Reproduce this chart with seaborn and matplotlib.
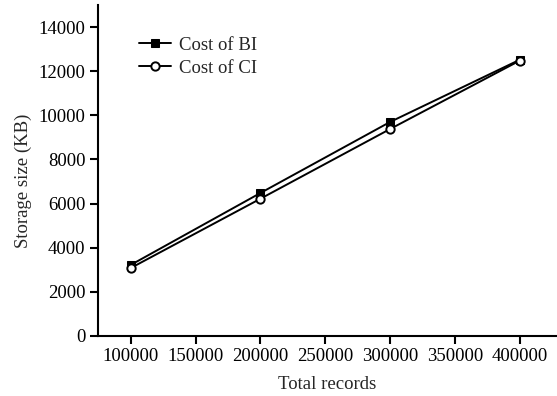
import matplotlib
matplotlib.use("Agg")
import matplotlib.pyplot as plt
import seaborn as sns
import pandas as pd

records = [100000, 200000, 300000, 400000]
cost_bi = [3220, 6480, 9700, 12520]
cost_ci = [3080, 6220, 9380, 12480]

sns.set_style("ticks")
plt.rcParams['font.family'] = ['Liberation Serif', 'DejaVu Serif']
FS = 13.5

df = pd.DataFrame({"records": records * 2,
                   "value": cost_bi + cost_ci,
                   "series": ["Cost of BI"] * 4 + ["Cost of CI"] * 4})

fig = plt.figure(figsize=(5.57, 3.96), dpi=100)
ax = fig.add_axes([0.176, 0.152, 0.822, 0.835])

sns.lineplot(data=df[df.series == "Cost of BI"], x="records", y="value", ax=ax,
             color="black", marker="s", markersize=6, linewidth=1.4,
             markerfacecolor="black", markeredgecolor="black", label="Cost of BI")
sns.lineplot(data=df[df.series == "Cost of CI"], x="records", y="value", ax=ax,
             color="black", marker="o", markersize=6, linewidth=1.4,
             markerfacecolor="white", markeredgecolor="black", markeredgewidth=1.4,
             label="Cost of CI")

ax.set_xlim(74600, 428000)
ax.set_ylim(0, 15000)
ax.set_xticks([100000, 150000, 200000, 250000, 300000, 350000, 400000])
ax.set_yticks(range(0, 14001, 2000))
ax.set_xlabel("Total records", fontsize=FS, labelpad=8)
ax.set_ylabel("Storage size (KB)", fontsize=FS)
ax.yaxis.set_label_coords(-0.145, 0.47)
ax.tick_params(direction="out", length=6, width=1.5, labelsize=FS, colors="black", pad=3)
for s in ["left", "bottom"]:
    ax.spines[s].set_linewidth(1.5)
    ax.spines[s].set_color("black")
sns.despine(ax=ax)

leg = ax.legend(loc="upper left", bbox_to_anchor=(0.053, 0.955), frameon=False,
                handlelength=1.7, handletextpad=0.4, labelspacing=0.3, fontsize=FS)

fig.savefig("out.png", dpi=100)
